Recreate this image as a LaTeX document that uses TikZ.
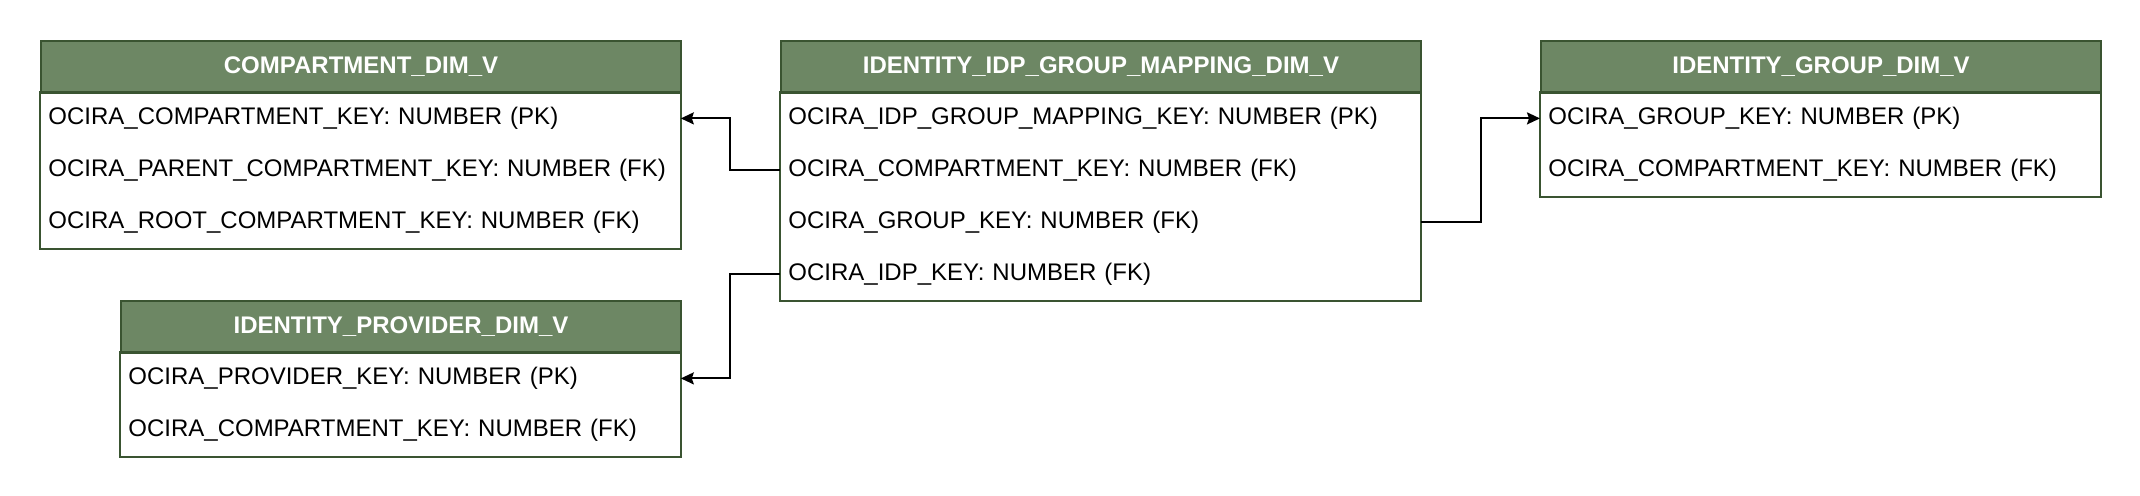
\documentclass[tikz,border=0pt]{standalone}
\usepackage{fontspec}
\setmainfont{Liberation Sans}
\usetikzlibrary{arrows.meta}
\definecolor{hdrfill}{HTML}{6D8764}
\definecolor{hdrline}{HTML}{3A5431}
\newcommand\fldtxt[1]{\raisebox{0.5bp}{#1}}
\begin{document}
\begin{tikzpicture}[x=0.5bp,y=-0.5bp,
  hdr/.style={draw=hdrline, line width=1bp, fill=hdrfill, text=white,
    font=\bfseries\fontsize{12bp}{14bp}\selectfont, minimum height=26bp,
    inner sep=0pt, anchor=north west},
  fld/.style={minimum height=26bp, inner xsep=4bp, inner ysep=0pt,
    anchor=north west, font=\fontsize{12bp}{14bp}\selectfont, align=left},
  frame/.style={draw=hdrline, line width=1bp},
  conn/.style={draw=black, line width=1bp, -{Stealth[length=6.5bp,width=6bp,inset=1bp]}}]
\useasboundingbox (0,0) rectangle (2140,496);

% COMPARTMENT_DIM_V
\node[hdr, minimum width=320bp] (ch) at (40,40) {COMPARTMENT\_DIM\_V};
\node[fld, text width=312bp] (c1) at (40,92) {\fldtxt{OCIRA\_COMPARTMENT\_KEY: NUMBER (PK)}};
\node[fld, text width=312bp] (c2) at (40,144) {\fldtxt{OCIRA\_PARENT\_COMPARTMENT\_KEY: NUMBER (FK)}};
\node[fld, text width=312bp] (c3) at (40,196) {\fldtxt{OCIRA\_ROOT\_COMPARTMENT\_KEY: NUMBER (FK)}};
\draw[frame] (c1.north west) rectangle (c3.south east);

% IDENTITY_PROVIDER_DIM_V
\node[hdr, minimum width=280bp] (ph) at (120,300) {IDENTITY\_PROVIDER\_DIM\_V};
\node[fld, text width=272bp] (p1) at (120,352) {\fldtxt{OCIRA\_PROVIDER\_KEY: NUMBER (PK)}};
\node[fld, text width=272bp] (p2) at (120,404) {\fldtxt{OCIRA\_COMPARTMENT\_KEY: NUMBER (FK)}};
\draw[frame] (p1.north west) rectangle (p2.south east);

% IDENTITY_IDP_GROUP_MAPPING_DIM_V
\node[hdr, minimum width=320bp] (mh) at (780,40) {IDENTITY\_IDP\_GROUP\_MAPPING\_DIM\_V};
\node[fld, text width=312bp] (m1) at (780,92) {\fldtxt{OCIRA\_IDP\_GROUP\_MAPPING\_KEY: NUMBER (PK)}};
\node[fld, text width=312bp] (m2) at (780,144) {\fldtxt{OCIRA\_COMPARTMENT\_KEY: NUMBER (FK)}};
\node[fld, text width=312bp] (m3) at (780,196) {\fldtxt{OCIRA\_GROUP\_KEY: NUMBER (FK)}};
\node[fld, text width=312bp] (m4) at (780,248) {\fldtxt{OCIRA\_IDP\_KEY: NUMBER (FK)}};
\draw[frame] (m1.north west) rectangle (m4.south east);

% IDENTITY_GROUP_DIM_V
\node[hdr, minimum width=280bp] (gh) at (1540,40) {IDENTITY\_GROUP\_DIM\_V};
\node[fld, text width=272bp] (g1) at (1540,92) {\fldtxt{OCIRA\_GROUP\_KEY: NUMBER (PK)}};
\node[fld, text width=272bp] (g2) at (1540,144) {\fldtxt{OCIRA\_COMPARTMENT\_KEY: NUMBER (FK)}};
\draw[frame] (g1.north west) rectangle (g2.south east);

% connectors
\draw[conn] (m2.west) -- ++(-50,0) |- (c1.east);
\draw[conn] (m4.west) -- ++(-50,0) |- (p1.east);
\draw[conn] (m3.east) -- ++(60,0) |- (g1.west);
\end{tikzpicture}
\end{document}
